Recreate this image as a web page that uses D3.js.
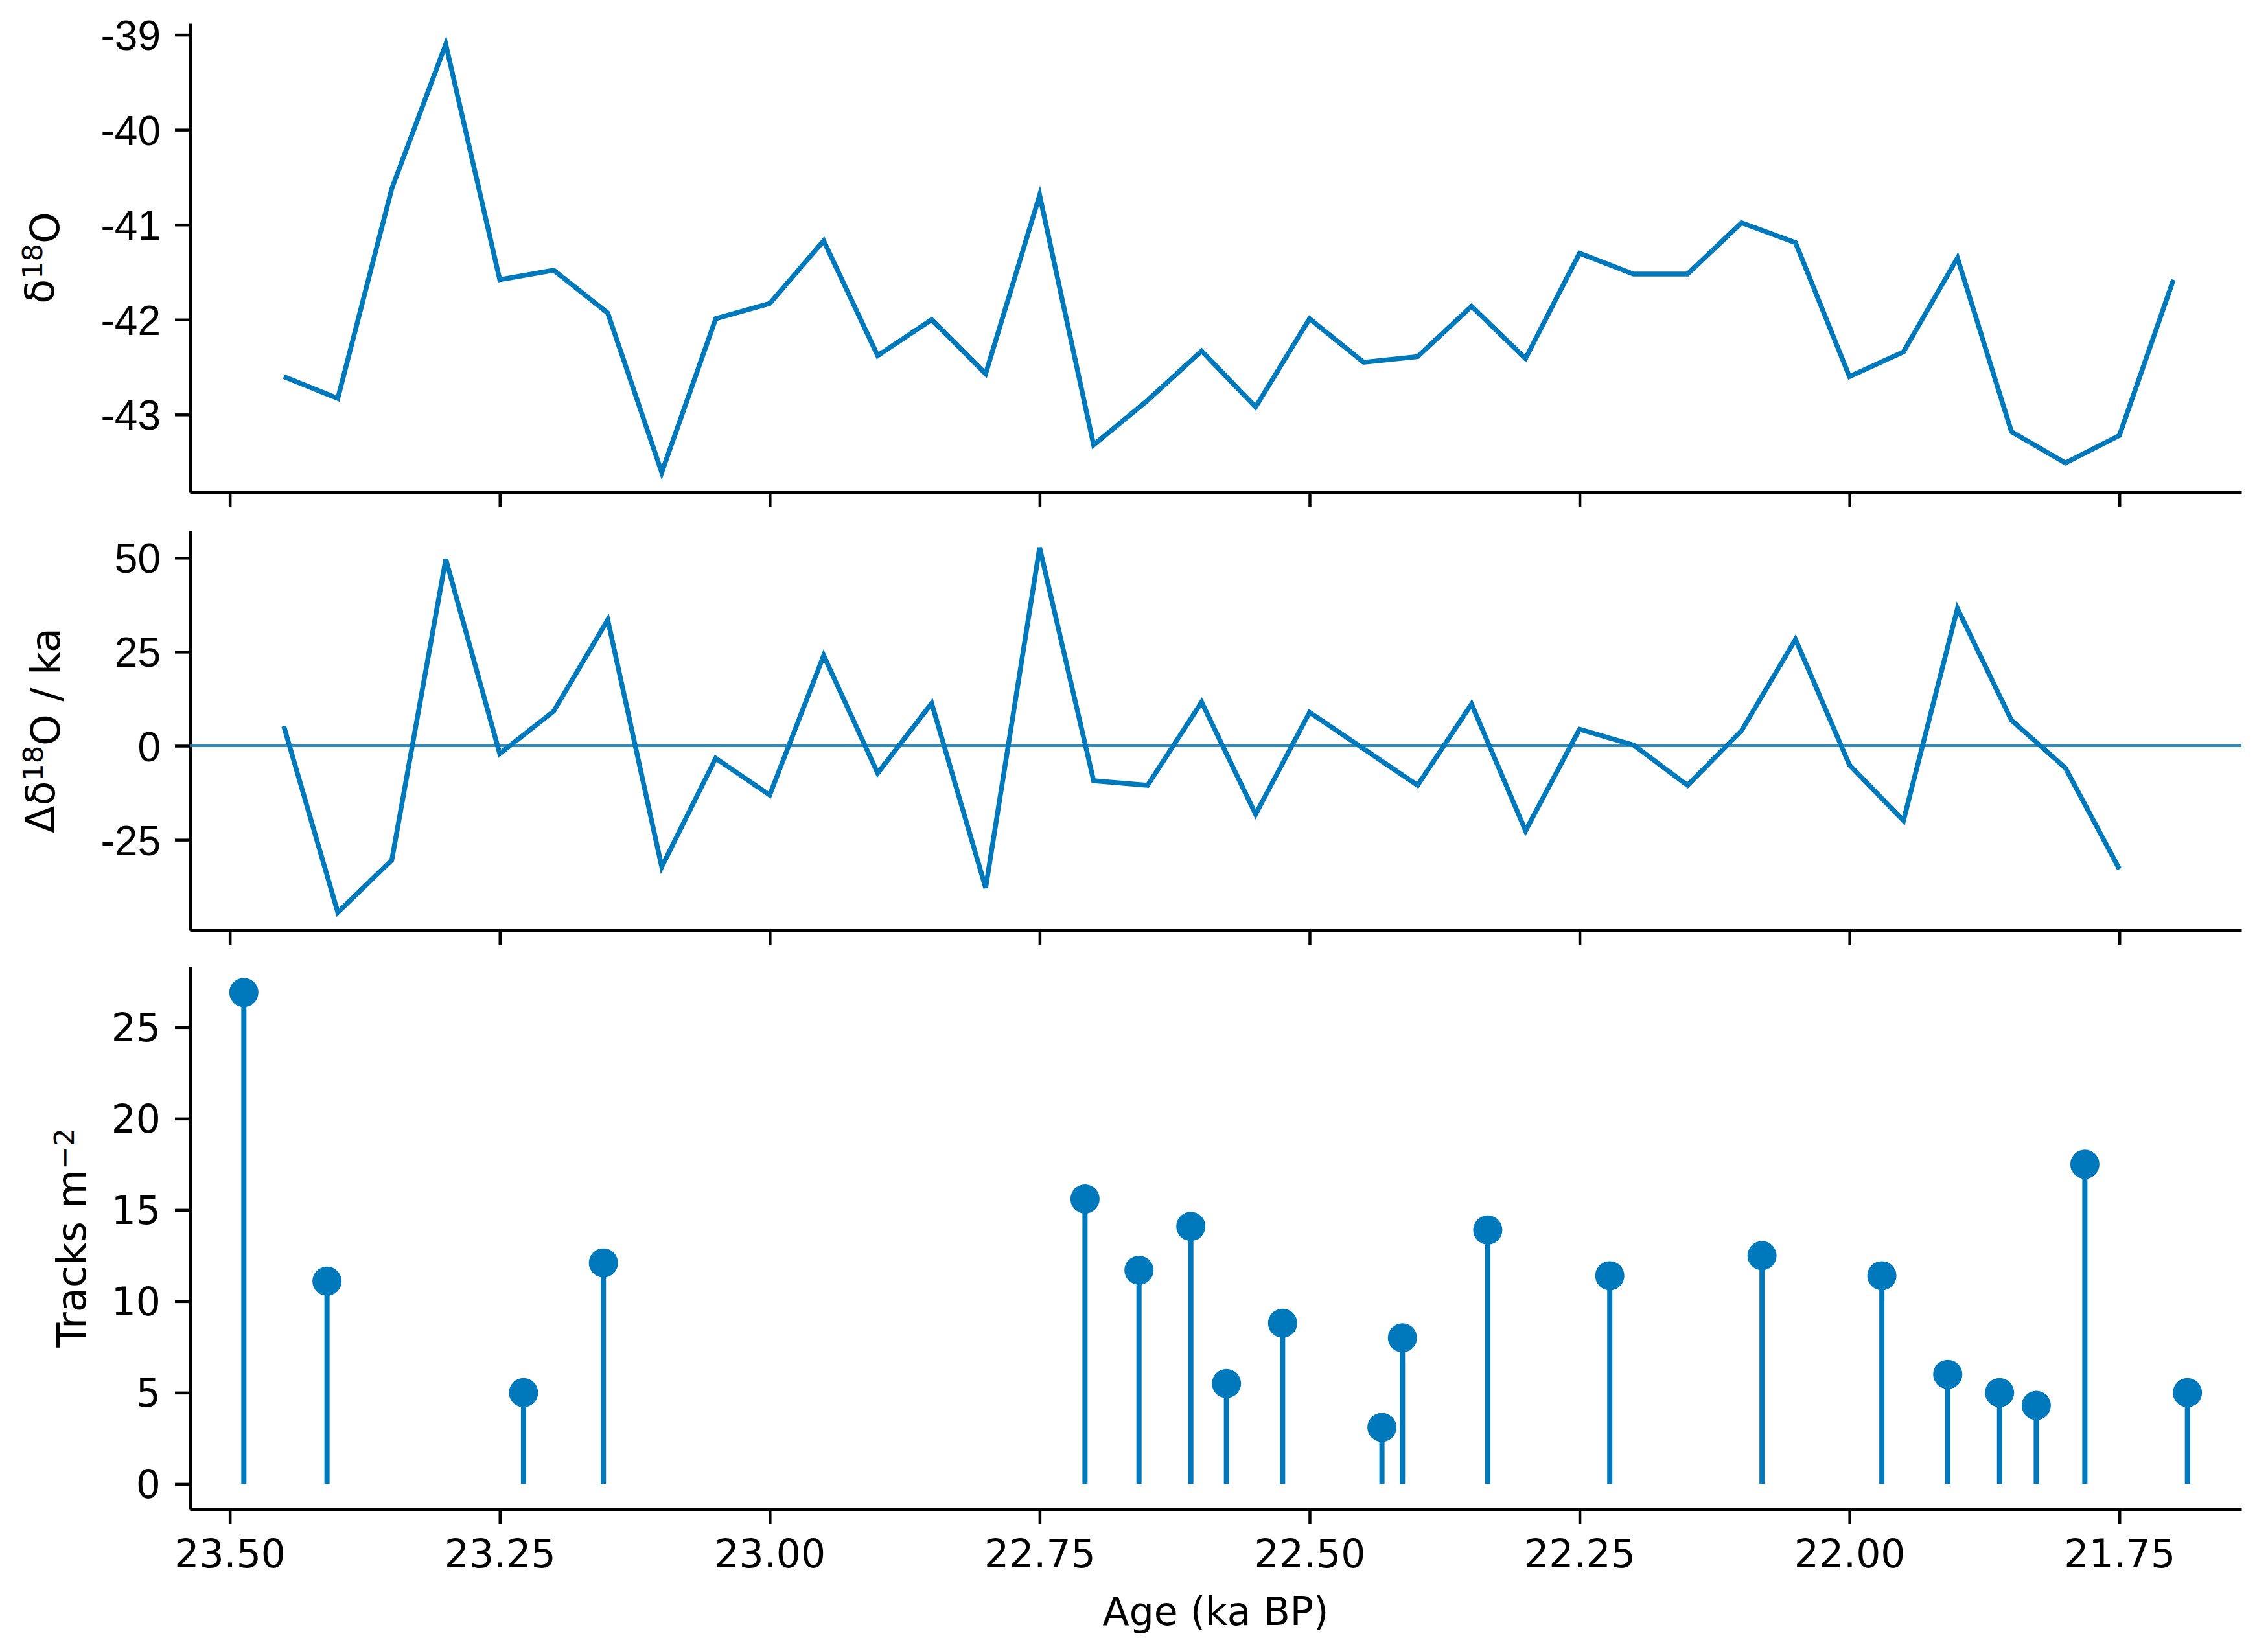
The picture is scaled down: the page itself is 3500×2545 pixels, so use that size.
<!DOCTYPE html>
<html>
<head>
<meta charset="utf-8">
<script src="https://cdn.jsdelivr.net/npm/d3@7"></script>
<style>
    html, body { margin: 0; padding: 0; background: #fff; }
    svg { display: block; }
</style>
</head>
<body>
<svg id="Chart" width="3500" height="2545"></svg>
<script>
(function(window) {
    'use strict';

    /******************************************************************
        data
     ******************************************************************/
    var ageTicks = [23.50, 23.25, 23.00, 22.75, 22.50, 22.25, 22.00, 21.75];

    var isoAges = [23.45, 23.40, 23.35, 23.30, 23.25, 23.20, 23.15, 23.10, 23.05, 23.00,
                   22.95, 22.90, 22.85, 22.80, 22.75, 22.70, 22.65, 22.60, 22.55, 22.50,
                   22.45, 22.40, 22.35, 22.30, 22.25, 22.20, 22.15, 22.10, 22.05, 22.00,
                   21.95, 21.90, 21.85, 21.80, 21.75, 21.70];

    var d18O = [-42.60, -42.83, -40.62, -39.10, -41.58, -41.48, -41.93, -43.61, -41.99, -41.83,
                -41.17, -42.38, -42.00, -42.57, -40.69, -43.32, -42.85, -42.33, -42.92, -41.99,
                -42.45, -42.39, -41.86, -42.41, -41.30, -41.52, -41.52, -40.98, -41.19, -42.60,
                -42.34, -41.35, -43.18, -43.51, -43.22, -41.58];

    var rateAges = [23.45, 23.40, 23.35, 23.30, 23.25, 23.20, 23.15, 23.10, 23.05, 23.00,
                    22.95, 22.90, 22.85, 22.80, 22.75, 22.70, 22.65, 22.60, 22.55, 22.50,
                    22.45, 22.40, 22.35, 22.30, 22.25, 22.20, 22.15, 22.10, 22.05, 22.00,
                    21.95, 21.90, 21.85, 21.80, 21.75];

    var dRate = [5.2, -44.3, -30.4, 49.6, -2.1, 9.2, 33.5, -32.2, -3.3, -13.1,
                 24.0, -7.3, 11.3, -37.8, 52.7, -9.3, -10.5, 11.6, -18.2, 8.9,
                 -0.8, -10.5, 11.1, -22.6, 4.4, 0.2, -10.5, 4.0, 28.3, -5.1,
                 -19.9, 36.5, 6.8, -5.9, -32.8];

    var trackAges = [23.487, 23.410, 23.228, 23.154, 22.708, 22.658, 22.610, 22.577, 22.525, 22.433,
                     22.414, 22.335, 22.222, 22.081, 21.970, 21.909, 21.861, 21.827, 21.782, 21.687];

    var tracks = [26.9, 11.1, 5.0, 12.1, 15.6, 11.7, 14.1, 5.5, 8.8, 3.1,
                  8.0, 13.9, 11.4, 12.5, 11.4, 6.0, 5.0, 4.3, 17.5, 5.0];

    var isoTicks = [-39, -40, -41, -42, -43];
    var rateTicks = [50, 25, 0, -25];
    var trackTicks = [0, 5, 10, 15, 20, 25];

    /******************************************************************
        layout
     ******************************************************************/
    var BLUE = '#0079bc';
    var SANS = '"DejaVu Sans", sans-serif';
    var ARIAL = '"Liberation Sans", Arial, sans-serif';
    var LEFT = 293, RIGHT = 3459;

    var svg = d3.select('#Chart');

    var x = d3.scaleLinear().domain([23.537, 21.637]).range([LEFT, RIGHT]);

    var panels = [
        { top: 36,   bottom: 760,  domain: [-43.82, -38.88], ticks: isoTicks,   font: ARIAL, size: 64 },
        { top: 819,  bottom: 1436, domain: [-49.1, 57.2],    ticks: rateTicks,  font: ARIAL, size: 64 },
        { top: 1492, bottom: 2329, domain: [-1.37, 28.31],   ticks: trackTicks, font: SANS,  size: 60 }
    ];

    // plain hyphen for negatives, like the original figure
    function plain(d) { return String(d); }

    function styleAxis(g, font, size) {
        g.attr('font-family', null).attr('font-size', null);
        g.selectAll('.domain').attr('stroke', '#000').attr('stroke-width', 5);
        g.selectAll('.tick line').attr('stroke', '#000').attr('stroke-width', 4.5);
        g.selectAll('.tick text')
            .attr('fill', '#000')
            .style('font-family', font)
            .style('font-size', size + 'px');
    }

    panels.forEach(function(p, i) {
        p.y = d3.scaleLinear().domain(p.domain).range([p.bottom, p.top]);

        var gy = svg.append('g')
            .attr('transform', 'translate(' + LEFT + ',0)')
            .call(d3.axisLeft(p.y)
                .tickValues(p.ticks)
                .tickFormat(plain)
                .tickSize(23)
                .tickSizeOuter(0)
                .tickPadding(22));
        styleAxis(gy, p.font, p.size);
        gy.selectAll('.tick text').attr('dy', '0.36em');

        var gx = svg.append('g')
            .attr('transform', 'translate(0,' + p.bottom + ')')
            .call(d3.axisBottom(x)
                .tickValues(ageTicks)
                .tickFormat(i === 2 ? d3.format('.2f') : '')
                .tickSize(23)
                .tickSizeOuter(0)
                .tickPadding(24));
        styleAxis(gx, SANS, 60);
    });

    /******************************************************************
        d18O line
     ******************************************************************/
    var yIso = panels[0].y;
    svg.append('path')
        .datum(d3.range(isoAges.length))
        .attr('fill', 'none')
        .attr('stroke', BLUE)
        .attr('stroke-width', 7.5)
        .attr('d', d3.line()
            .x(function(k) { return x(isoAges[k]); })
            .y(function(k) { return yIso(d18O[k]); }));

    /******************************************************************
        rate of change line + zero line
     ******************************************************************/
    var yRate = panels[1].y;
    svg.append('line')
        .attr('x1', LEFT).attr('x2', RIGHT)
        .attr('y1', yRate(0)).attr('y2', yRate(0))
        .attr('stroke', BLUE)
        .attr('stroke-opacity', 0.85)
        .attr('stroke-width', 4);

    svg.append('path')
        .datum(d3.range(rateAges.length))
        .attr('fill', 'none')
        .attr('stroke', BLUE)
        .attr('stroke-width', 7.5)
        .attr('d', d3.line()
            .x(function(k) { return x(rateAges[k]); })
            .y(function(k) { return yRate(dRate[k]); }));

    /******************************************************************
        tracks stem plot
     ******************************************************************/
    var yTr = panels[2].y;
    var stems = svg.append('g').selectAll('g')
        .data(d3.range(trackAges.length))
        .enter().append('g');

    stems.append('line')
        .attr('x1', function(k) { return x(trackAges[k]); })
        .attr('x2', function(k) { return x(trackAges[k]); })
        .attr('y1', yTr(0))
        .attr('y2', function(k) { return yTr(tracks[k]); })
        .attr('stroke', BLUE)
        .attr('stroke-width', 8);

    stems.append('circle')
        .attr('cx', function(k) { return x(trackAges[k]); })
        .attr('cy', function(k) { return yTr(tracks[k]); })
        .attr('r', 22.5)
        .attr('fill', BLUE);

    /******************************************************************
        axis labels
     ******************************************************************/
    function yLabel(xpos, p, parts) {
        var t = svg.append('text')
            .attr('transform', 'translate(' + xpos + ',' + ((p.top + p.bottom) / 2) + ') rotate(-90)')
            .attr('text-anchor', 'middle')
            .style('font-family', SANS)
            .style('font-size', '62px')
            .attr('fill', '#000');
        parts.forEach(function(s) {
            var ts = t.append('tspan').text(s[0]);
            if (s[1] === 'sup') ts.attr('dy', '-0.42em').style('font-size', '43px');
            if (s[1] === 'down') ts.attr('dy', '0.42em');
        });
    }

    yLabel(83, panels[0], [['δ'], ['18', 'sup'], ['O', 'down']]);
    yLabel(84, panels[1], [['Δδ'], ['18', 'sup'], ['O / ka', 'down']]);
    yLabel(132, panels[2], [['Tracks m'], ['\u22122', 'sup']]);

    svg.append('text')
        .attr('x', (LEFT + RIGHT) / 2)
        .attr('y', 2508)
        .attr('text-anchor', 'middle')
        .style('font-family', SANS)
        .style('font-size', '60px')
        .attr('fill', '#000')
        .text('Age (ka BP)');

})(window);
</script>
</body>
</html>
